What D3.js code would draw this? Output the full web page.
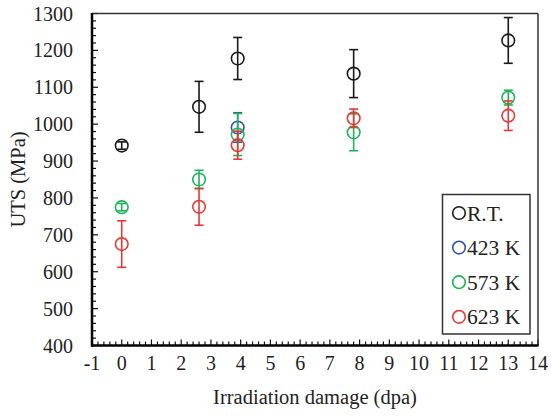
<!DOCTYPE html>
<html><head><meta charset="utf-8">
<script src="https://cdn.jsdelivr.net/npm/d3@7"></script>
<style>body{margin:0;background:#fff}svg{display:block}</style>
</head><body><svg id="c" width="551" height="419"></svg>
<script>
const seriesNames = ["R.T.", "423 K", "573 K", "623 K"];
const seriesColors = ["#1a1a1a", "#2f4fa8", "#1fb35a", "#e53935"];
const rtX = [0, 2.6, 3.9, 7.8, 13];
const rtY = [942, 1047, 1178, 1137, 1227];
const rtErr = [10, 69, 57, 65, 62];
const k423X = [3.9];
const k423Y = [991];
const k423Err = [40];
const k573X = [0, 2.6, 3.9, 7.8, 13];
const k573Y = [775, 850, 972, 978, 1072];
const k573Err = [10, 25, 57, 50, 20];
const k623X = [0, 2.6, 3.9, 7.8, 13];
const k623Y = [675, 776, 943, 1016, 1023];
const k623Err = [63, 50, 38, 25, 40];
const xTicks = [-1,0,1,2,3,4,5,6,7,8,9,10,11,12,13,14];
const yTicks = [400,500,600,700,800,900,1000,1100,1200,1300];

const FONT = "Liberation Serif";
const svg = d3.select("#c");
const L=92, R=538, T=13.5, B=345.5;
const x = d3.scaleLinear().domain([-1,14]).range([L,R]);
const y = d3.scaleLinear().domain([400,1300]).range([B,T]);

const g = svg.append("g");
d3.range(-1,14.001,0.2).forEach(v=>{
  const major = Math.abs(v-Math.round(v))<1e-6;
  g.append("line").attr("x1",x(v)).attr("x2",x(v)).attr("y1",B).attr("y2",B-(major?6:4)).attr("stroke","#111").attr("stroke-width",1.2);
});
d3.range(400,1300.01,20).forEach(v=>{
  const major = v%100===0;
  g.append("line").attr("x1",L).attr("x2",L+(major?6:4)).attr("y1",y(v)).attr("y2",y(v)).attr("stroke","#111").attr("stroke-width",1.2);
});
svg.append("line").attr("x1",L).attr("x2",R).attr("y1",T).attr("y2",T).attr("stroke","#333").attr("stroke-width",1.5);
svg.append("line").attr("x1",R).attr("x2",R).attr("y1",T).attr("y2",B).attr("stroke","#333").attr("stroke-width",1.5);
svg.append("line").attr("x1",L).attr("x2",L).attr("y1",T-0.5).attr("y2",B+1).attr("stroke","#000").attr("stroke-width",2.5);
svg.append("line").attr("x1",L-1).attr("x2",R+0.5).attr("y1",B).attr("y2",B).attr("stroke","#000").attr("stroke-width",2.5);

const txt = sel => sel.style("font-family",FONT).attr("fill","#222");
svg.selectAll(".yt").data(yTicks).join("text").attr("x",73).attr("y",d=>y(d)).attr("dy","0.35em")
  .attr("text-anchor","end").attr("font-size",20).call(txt).text(d=>d);
svg.selectAll(".xt").data(xTicks).join("text").attr("x",d=>x(d)).attr("y",369.5)
  .attr("text-anchor","middle").attr("font-size",20).call(txt).text(d=>d);
svg.append("text").attr("x",(L+R)/2).attr("y",404).attr("text-anchor","middle").attr("font-size",20.5).call(txt).text("Irradiation damage (dpa)");
svg.append("text").attr("transform",`translate(25,${(T+B)/2}) rotate(-90)`).attr("text-anchor","middle").attr("font-size",20.5).call(txt).text("UTS (MPa)");

const series = [[rtX,rtY,rtErr],[k423X,k423Y,k423Err],[k573X,k573Y,k573Err],[k623X,k623Y,k623Err]];
series.forEach(([xs,ys,es],i)=>{
  const c = seriesColors[i];
  const gg = svg.append("g").attr("stroke",c).attr("fill","none").attr("stroke-width",1.6);
  xs.forEach((xv,j)=>{
    const px=x(xv), y1=y(ys[j]+es[j]), y2=y(ys[j]-es[j]);
    gg.append("line").attr("x1",px).attr("x2",px).attr("y1",y1).attr("y2",y2);
    gg.append("line").attr("x1",px-4.5).attr("x2",px+4.5).attr("y1",y1).attr("y2",y1);
    gg.append("line").attr("x1",px-4.5).attr("x2",px+4.5).attr("y1",y2).attr("y2",y2);
    gg.append("circle").attr("cx",px).attr("cy",y(ys[j])).attr("r",6.3);
  });
});

const lg = svg.append("g");
lg.append("rect").attr("x",442.5).attr("y",194.5).attr("width",87.5).attr("height",139.5).attr("fill","#fff").attr("stroke","#333").attr("stroke-width",1.5);
seriesNames.forEach((n,i)=>{
  const cy = 213 + i*34.6;
  lg.append("circle").attr("cx",459).attr("cy",cy).attr("r",6.3).attr("fill","none").attr("stroke",seriesColors[i]).attr("stroke-width",1.6);
  lg.append("text").attr("x",467).attr("y",cy).attr("dy","0.35em").attr("font-size",21.5).call(txt).text(n);
});
</script></body></html>
